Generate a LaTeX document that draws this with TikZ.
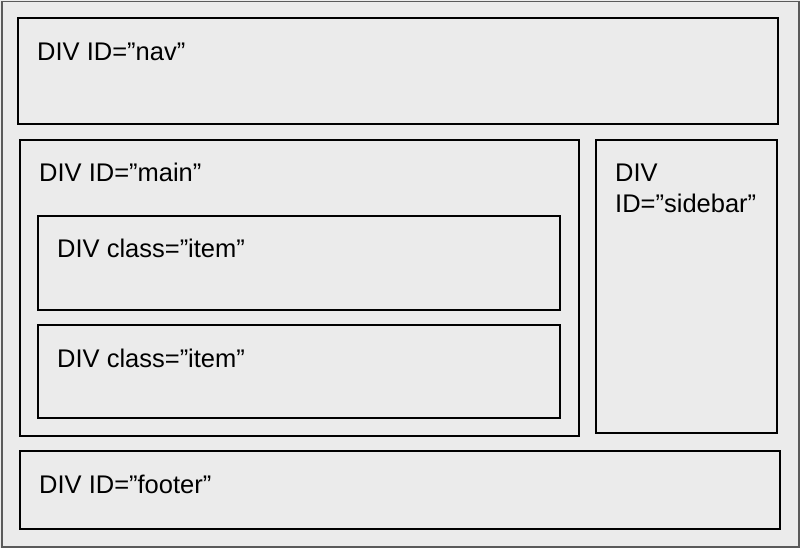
\documentclass[tikz,border=0pt]{standalone}
\usepackage{fontspec}
\setmainfont{Liberation Sans}
\definecolor{pagebg}{HTML}{EBEBEB}
\definecolor{frame}{HTML}{5A5A5A}
\begin{document}
\begin{tikzpicture}[x=1pt, y=-1pt,
    divbox/.style={rectangle, draw=black, line width=2pt, inner sep=0pt, anchor=north west},
    divtext/.style={inner sep=0pt, anchor=base west, align=left, font=\fontsize{25.5}{31}\selectfont}]
\useasboundingbox[fill=pagebg] (0,0) rectangle (800,548);
\node[divbox, draw=frame, line width=1.5pt, minimum width=797pt, minimum height=545pt] (page) at (1,1) {};
    \node[divbox, minimum width=760pt, minimum height=106pt] (nav) at (17,17) {};
    \node[divbox, minimum width=559pt, minimum height=296pt] (main) at (19,139) {};
    \node[divbox, minimum width=181pt, minimum height=293pt] (sidebar) at (595,139) {};
    \node[divbox, minimum width=522pt, minimum height=94pt] (item1) at (37,215) {};
    \node[divbox, minimum width=522pt, minimum height=93pt] (item2) at (37,324) {};
    \node[divbox, minimum width=760pt, minimum height=78pt] (footer) at (19,450) {};
\node[divtext] (navtext) at ([xshift=20pt, yshift=-44pt]nav.north west) {DIV ID=”nav”};
\node[divtext] (maintext) at ([xshift=20pt, yshift=-43pt]main.north west) {DIV ID=”main”};
% two lines: the base anchor sits on the last one
\node[divtext] (sidebartext) at ([xshift=20pt, yshift=-73pt]sidebar.north west) {DIV\\ID=”sidebar”};
\node[divtext] (item1text) at ([xshift=20pt, yshift=-42pt]item1.north west) {DIV class=”item”};
\node[divtext] (item2text) at ([xshift=20pt, yshift=-43pt]item2.north west) {DIV class=”item”};
\node[divtext] (footertext) at ([xshift=20pt, yshift=-43pt]footer.north west) {DIV ID=”footer”};
\end{tikzpicture}
\end{document}
